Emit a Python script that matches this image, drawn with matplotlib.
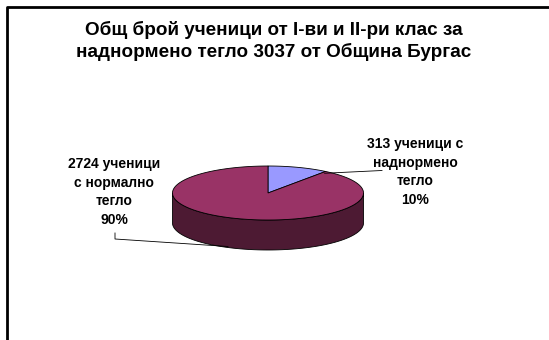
import numpy as np
import matplotlib.pyplot as plt
from matplotlib.patches import Polygon

# данни
categories = ['ученици с\nнаднормено\nтегло', 'ученици\nс нормално\nтегло']
values = [313, 2724]
colors_top = ['#9999FF', '#993366']
colors_side = ['#4D4D80', '#4D1A33']
title = 'Общ брой ученици от I-ви и II-ри клас за\nнаднормено тегло 3037 от Община Бургас'

plt.rcParams['font.family'] = ['Liberation Sans', 'DejaVu Sans']

fig = plt.figure(figsize=(5.49, 3.40), dpi=100)
ax = fig.add_axes([0, 0, 1, 1])
ax.set_xlim(0, 549)
ax.set_ylim(340, 0)
ax.axis('off')

# рамка
ax.plot([6.5, 6.5, 549], [340, 6.5, 6.5], color='black', lw=2, solid_capstyle='butt')

ax.text(274, 41, title, ha='center', va='center', fontsize=13.6,
        fontweight='bold', linespacing=1.3)

# 3D кръгова диаграма
cx, cy = 268, 193
a, b, depth = 95.5, 27, 30


def pt(t, dy=0):
    # t в градуси, по часовниковата стрелка от 12 часа
    r = np.radians(t)
    return cx + a * np.sin(r), cy - b * np.cos(r) + dy


total = sum(values)
fr = np.array(values) / total
starts = np.concatenate([[0], np.cumsum(fr)[:-1]]) * 360
ends = np.cumsum(fr) * 360

# странична стена (видима е само предната половина)
for s, e, cs in zip(starts, ends, colors_side):
    lo, hi = max(s, 90), min(e, 270)
    if lo >= hi:
        continue
    ts = np.linspace(lo, hi, 100)
    top = [pt(t) for t in ts]
    bot = [pt(t, depth) for t in ts[::-1]]
    ax.add_patch(Polygon(top + bot, closed=True, facecolor=cs,
                         edgecolor='black', lw=0.6))

# горна повърхност
for s, e, ct in zip(starts, ends, colors_top):
    ts = np.linspace(s, e, 200)
    verts = [(cx, cy)] + [pt(t) for t in ts]
    ax.add_patch(Polygon(verts, closed=True, facecolor=ct,
                         edgecolor='black', lw=0.6))

# етикети
x1, y1 = pt(ends[0] * 0.98)
ax.plot([x1, 382], [y1 + 2, 170.5], color='black', lw=0.6)
ax.text(415, 172, f'{values[0]} {categories[0]}\n{round(fr[0] * 100)}%',
        ha='center', va='center', fontsize=10, fontweight='bold', linespacing=1.42)

ax.plot([115, 115, 228], [233, 239, 246.5], color='black', lw=0.6)
ax.text(114, 192, f'{values[1]} {categories[1]}\n{round(fr[1] * 100)}%',
        ha='center', va='center', fontsize=10, fontweight='bold', linespacing=1.42)

fig.savefig('out.png', dpi=100, facecolor='white')
